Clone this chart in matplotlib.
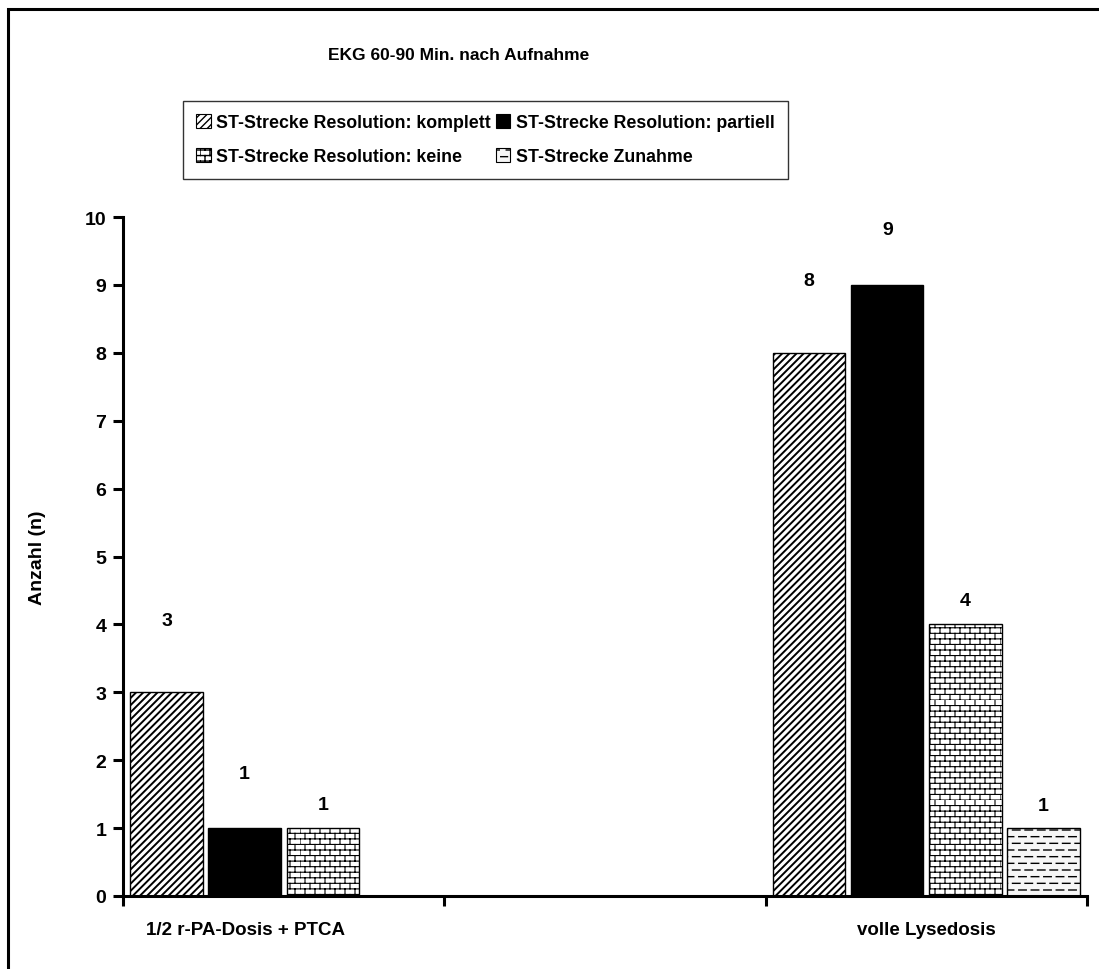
import warnings
import numpy as np
import matplotlib
matplotlib.use('Agg')
import matplotlib.pyplot as plt
import matplotlib.hatch as mhatch
import matplotlib.transforms as mtrans
from matplotlib.path import Path
from matplotlib.patches import Rectangle, Patch

warnings.filterwarnings('ignore')

# data
categories = ['1/2 r-PA-Dosis + PTCA', '', 'volle Lysedosis']
series_names = ['ST-Strecke Resolution: komplett', 'ST-Strecke Resolution: partiell',
                'ST-Strecke Resolution: keine', 'ST-Strecke Zunahme']
komplett = [3, 0, 8]
partiell = [1, 0, 9]
keine = [1, 0, 4]
zunahme = [0, 0, 1]
yticks = list(range(0, 11))
title = 'EKG 60-90 Min. nach Aufnahme'
ylabel = 'Anzahl (n)'


# excel-like fill patterns as extra hatch types
class DiagHatch(mhatch.HatchPatternBase):
    # 'w' : dense /// stripes
    def __init__(self, hatch, density):
        n = hatch.count('w')
        self.k = 14 * n
        self.num_vertices = (2 * self.k + 1) * 2 if n else 0

    def set_vertices_and_codes(self, vertices, codes):
        c = np.arange(-self.k, self.k + 1) / self.k
        vertices[0::2, 0] = c
        vertices[0::2, 1] = 0.0
        vertices[1::2, 0] = c + 1.0
        vertices[1::2, 1] = 1.0
        codes[0::2] = Path.MOVETO
        codes[1::2] = Path.LINETO


class BrickHatch(mhatch.HatchPatternBase):
    # 'b' : small bricks
    def __init__(self, hatch, density):
        n = hatch.count('b')
        self.rows = 18 * n
        self.cols = 10 * n
        self.num_vertices = (self.rows + self.rows * self.cols) * 2 if n else 0

    def set_vertices_and_codes(self, vertices, codes):
        pts = []
        for i in range(self.rows):
            y0 = i / self.rows
            y1 = (i + 1) / self.rows
            pts.append((0.0, y0))
            pts.append((1.0, y0))
            for j in range(self.cols):
                x = (j + 0.5 * (i % 2)) / self.cols
                pts.append((x, y0))
                pts.append((x, y1))
        vertices[:] = np.array(pts)
        codes[0::2] = Path.MOVETO
        codes[1::2] = Path.LINETO


class DashHatch(mhatch.HatchPatternBase):
    # 'd' : dashed horizontal lines
    def __init__(self, hatch, density):
        n = hatch.count('d')
        self.rows = 15 * n
        self.cols = 8 * n
        self.num_vertices = self.rows * self.cols * 2 if n else 0

    def set_vertices_and_codes(self, vertices, codes):
        pts = []
        for i in range(self.rows):
            y = (i + 0.5) / self.rows
            for j in range(self.cols):
                x0 = (j + 0.5 * (i % 2)) / self.cols
                pts.append((x0, y))
                pts.append((x0 + 0.6 / self.cols, y))
        vertices[:] = np.array(pts)
        codes[0::2] = Path.MOVETO
        codes[1::2] = Path.LINETO


mhatch._hatch_types.extend([DiagHatch, BrickHatch, DashHatch])

plt.rcParams['font.family'] = ['Liberation Sans', 'DejaVu Sans']
plt.rcParams['font.weight'] = 'bold'
plt.rcParams['hatch.color'] = 'black'
plt.rcParams['hatch.linewidth'] = 1.0

fig = plt.figure(figsize=(10.99, 9.70), dpi=100)
ax = fig.add_axes([123 / 1099, 73 / 970, 964 / 1099, 679 / 970])

values = [komplett, partiell, keine, zunahme]
hatches = ['w', '', 'b', 'd']
faces = ['white', 'black', 'white', '#f6f6f6']
hlw = [1.4, 1.0, 0.8, 1.0]
label_off = [72, 55, 24, 23]   # pixels above bar top

x = np.arange(len(categories))
slot = 0.243
width = 0.225
handles = []
for i, vals in enumerate(values):
    pos = x + (i - 1.5) * slot
    bars = ax.bar(pos, vals, width, color=faces[i], edgecolor='black',
                  linewidth=1.0, hatch=hatches[i], zorder=2)
    for b in bars:
        if hasattr(b, 'set_hatch_linewidth'):
            b.set_hatch_linewidth(hlw[i])
    for p, v in zip(pos, vals):
        if v > 0:
            ax.annotate(str(v), (p, v), xytext=(0, label_off[i]),
                        textcoords='offset pixels', ha='center', va='center',
                        fontsize=14, fontweight='bold')
    h = Patch(facecolor=faces[i], edgecolor='black', linewidth=0.8, hatch=hatches[i])
    if hasattr(h, 'set_hatch_linewidth'):
        h.set_hatch_linewidth(hlw[i])
    handles.append(h)

ax.set_xlim(-0.5, 2.5)
ax.set_ylim(0, 10)
ax.set_yticks(yticks)
ax.set_xticks(np.arange(-0.5, 3.0, 1.0))
ax.set_xticklabels([])
ax.set_xticks(x, minor=True)
ax.set_xticklabels(categories, minor=True)
ax.tick_params(axis='x', which='minor', length=0, pad=18, labelsize=13.5)
ax.tick_params(axis='x', which='major', direction='out', length=7, width=2.2)
ax.tick_params(axis='y', direction='out', length=7, width=2.2, pad=5, labelsize=14)
for lab in ax.get_xticklabels(minor=True) + ax.get_yticklabels():
    lab.set_fontweight('bold')
# first category label sits a bit left of its category centre
first = ax.get_xticklabels(minor=True)[0]
first.set_transform(first.get_transform() +
                    mtrans.ScaledTranslation(-38 / 100, 0, fig.dpi_scale_trans))

for s in ['top', 'right']:
    ax.spines[s].set_visible(False)
ax.spines['left'].set_linewidth(2.2)
ax.spines['bottom'].set_linewidth(2.2)

fig.text(38 / 1099, 0.5 * (73 + 752) / 970, ylabel, rotation=90, ha='center', va='center',
         fontsize=14, fontweight='bold')
fig.text(459 / 1099, 1 - 55 / 970, title, ha='center', va='center',
         fontsize=12.5, fontweight='bold')

order = [0, 2, 1, 3]
leg = fig.legend([handles[k] for k in order], [series_names[k] for k in order],
                 ncol=2, loc='upper left', bbox_to_anchor=(183 / 1099, 1 - 102 / 970),
                 bbox_transform=fig.transFigure, frameon=True, fancybox=False,
                 borderaxespad=0, handlelength=0.8, handleheight=0.8,
                 handletextpad=0.3, columnspacing=0.3, borderpad=0.75, labelspacing=0.95,
                 prop={'weight': 'bold', 'size': 12.8})
leg.get_frame().set_edgecolor('black')
leg.get_frame().set_linewidth(1.0)

frame = Rectangle((8 / 1099, -0.05), 1.2, 1.05 - 10 / 970, transform=fig.transFigure,
                  fill=False, edgecolor='black', linewidth=2.2, clip_on=False)
fig.add_artist(frame)

fig.savefig('out.png', dpi=100)
